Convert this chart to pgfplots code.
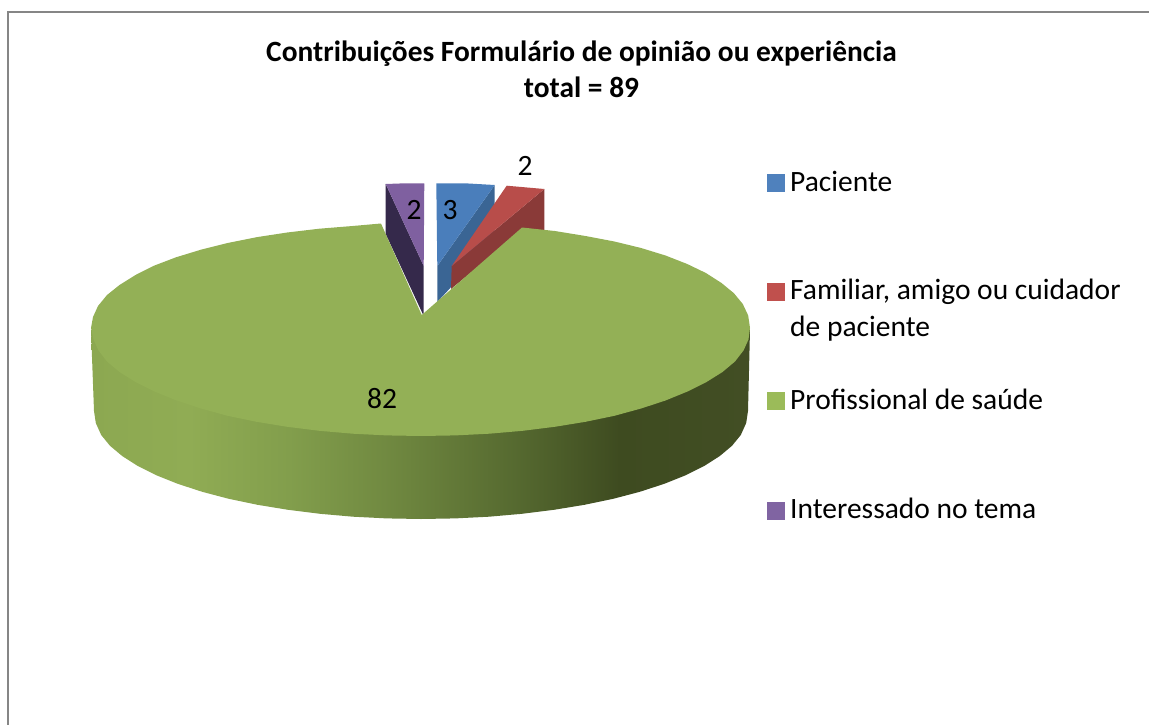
\documentclass[border=0pt]{standalone}
\usepackage{fontspec}
\setmainfont{Carlito}
\usepackage{pgfplots}
\pgfplotsset{compat=1.18}

\definecolor{frame}{HTML}{868686}
\definecolor{bluetop}{HTML}{4A7EBB}
\definecolor{blueside}{HTML}{3A6594}
\definecolor{redtop}{HTML}{B84D4A}
\definecolor{redside}{HTML}{8A3A38}
\definecolor{greentop}{HTML}{93B056}
\definecolor{purpletop}{HTML}{7F60A0}
\definecolor{purpleside}{HTML}{35294B}
\definecolor{keyblue}{HTML}{4F81BD}
\definecolor{keyred}{HTML}{C0504D}
\definecolor{keygreen}{HTML}{9BBB59}
\definecolor{keypurple}{HTML}{8064A2}
\definecolor{gs1}{HTML}{8CA851}
\definecolor{gs2}{HTML}{90AC54}
\definecolor{gs3}{HTML}{829E4C}
\definecolor{gs4}{HTML}{718A41}
\definecolor{gs5}{HTML}{566A30}
\definecolor{gs6}{HTML}{3E4B20}
\definecolor{gs7}{HTML}{424E24}

% rim of the big slice, left to right
\pgfdeclarehorizontalshading{rim}{100bp}{%
  color(0bp)=(gs1); color(25bp)=(gs1); color(32.4bp)=(gs2); color(40bp)=(gs3);
  color(47.2bp)=(gs4); color(57.1bp)=(gs5); color(65.1bp)=(gs6);
  color(75bp)=(gs7); color(100bp)=(gs7)}

\newcommand{\lab}{\fontsize{29.5}{35}\selectfont}
\newcommand{\ttl}{\fontsize{29.4}{35}\selectfont\bfseries}

\begin{document}
\begin{tikzpicture}
\begin{axis}[
    scale only axis,
    width=1149pt,
    height=725pt,
    xmin=0, xmax=1149,
    ymin=0, ymax=725,
    y dir=reverse,
    hide axis,
    ]
% keeps the page as large as the axis
\path (rel axis cs:0,0) rectangle (rel axis cs:1,1);

% frame
\addplot[frame, line width=2pt, mark=none] coordinates {(8,725) (8,12.4) (1149,12.4)};

% Interessado no tema
\addplot[purpleside, fill=purpleside, draw=none, mark=none] coordinates {(385.7,184) (423.7,266) (423.7,316) (385.7,234)} --cycle;
\addplot[purpletop, fill=purpletop, draw=none, mark=none] coordinates {(385.7,184) (405,183.3) (424.3,183.5) (423.7,266)} --cycle;

% Paciente
\addplot[blueside, fill=blueside, draw=none, mark=none] coordinates {(494.7,185) (494.7,240) (437.3,302) (437.3,266)} --cycle;
\addplot[bluetop, fill=bluetop, draw=none, mark=none] coordinates {(436.3,183.3) (465,183.3) (494.7,185) (437.3,266)} --cycle;

% Familiar
\addplot[redside, fill=redside, draw=none, mark=none] coordinates {(544.3,189) (544.3,232) (520,232) (451,289) (451.7,266)} --cycle;
\addplot[redtop, fill=redtop, draw=none, mark=none] coordinates {(506.7,185.7) (544.3,189) (451.7,266)} --cycle;

% Profissional: rim, then top face
\addplot[draw=none, shade, shading=rim, mark=none] coordinates {
  (748,411) (746.2,423) (740.8,435) (732,445.8) (719.7,456.1) (704.2,466)
  (685.6,475.3) (664,483.9) (639.8,491.8) (613.2,498.8) (584.5,504.8) (554,509.8)
  (522,513.8) (489,516.7) (455.2,518.4) (421,519) (386.8,518.4) (353,516.7)
  (320,513.8) (288,509.8) (257.5,504.8) (228.8,498.8) (202.2,491.8) (178,483.9)
  (156.4,475.3) (137.8,466) (122.3,456.1) (110,445.8) (101.2,435) (95.8,423)
  (94,411) (91,330) (750,330)} --cycle;
\addplot[greentop, fill=greentop, draw=none, mark=none] coordinates {
  (750,328) (748.5,339.5) (743.5,350.5) (735,361.5) (722.5,372) (706.5,382)
  (687.5,391.5) (665.5,400.5) (641.1,408.5) (614.4,415.8) (585.5,421.8) (554.8,426.8)
  (522.7,430.8) (489.4,433.7) (455.4,435.4) (421,436) (386.6,435.4) (352.6,433.7)
  (319.3,430.8) (287.2,426.8) (256.5,421.8) (227.6,415.8) (200.9,408.5) (176.5,400.5)
  (154.5,391.5) (135.5,382) (119.5,372) (107,361.5) (98.5,350.5) (93.5,339.5)
  (91,328) (93,317) (98,306) (107,295) (119.5,285) (135.5,275)
  (154,265.7) (176,257.3) (200.9,249.7) (227.6,243) (256.5,237.2) (287.2,232.5)
  (319.3,228.7) (352.6,226) (381,223.5) (421.7,315) (522,227.5) (554.8,231)
  (585.5,236) (614.4,241.5) (641.1,248) (665.5,255.5) (687.2,264) (705.9,273)
  (721.5,283) (733.9,293.2) (742.8,304) (748.2,315.5)} --cycle;

% legend keys
\addplot[only marks, mark=square*, mark size=8.5pt, color=keyblue] coordinates {(775.5,182.5)};
\addplot[only marks, mark=square*, mark size=8.5pt, color=keyred] coordinates {(775.5,291.5)};
\addplot[only marks, mark=square*, mark size=8.5pt, color=keygreen] coordinates {(775.5,400.5)};
\addplot[only marks, mark=square*, mark size=8.5pt, color=keypurple] coordinates {(775.5,510.5)};

% data labels
\node[font=\lab, anchor=base] at (axis cs:450,219) {3};
\node[font=\lab, anchor=base] at (axis cs:525,175) {2};
\node[font=\lab, anchor=base] at (axis cs:382,408) {82};
\node[font=\lab, anchor=base] at (axis cs:414,219) {2};

% legend text
\node[font=\lab, anchor=base west, inner sep=0pt] at (axis cs:790,191) {Paciente};
\node[font=\lab, anchor=base west, inner sep=0pt] at (axis cs:790,299) {Familiar, amigo ou cuidador};
\node[font=\lab, anchor=base west, inner sep=0pt] at (axis cs:790,336) {de paciente};
\node[font=\lab, anchor=base west, inner sep=0pt] at (axis cs:790,409) {Profissional de saúde};
\node[font=\lab, anchor=base west, inner sep=0pt] at (axis cs:790,518) {Interessado no tema};

% title
\node[font=\ttl, anchor=base, inner sep=0pt] at (axis cs:581.5,62) {Contribuições Formulário de opinião ou experiência};
\node[font=\ttl, anchor=base, inner sep=0pt] at (axis cs:581.5,97) {total = 89};
\end{axis}
\end{tikzpicture}
\end{document}
